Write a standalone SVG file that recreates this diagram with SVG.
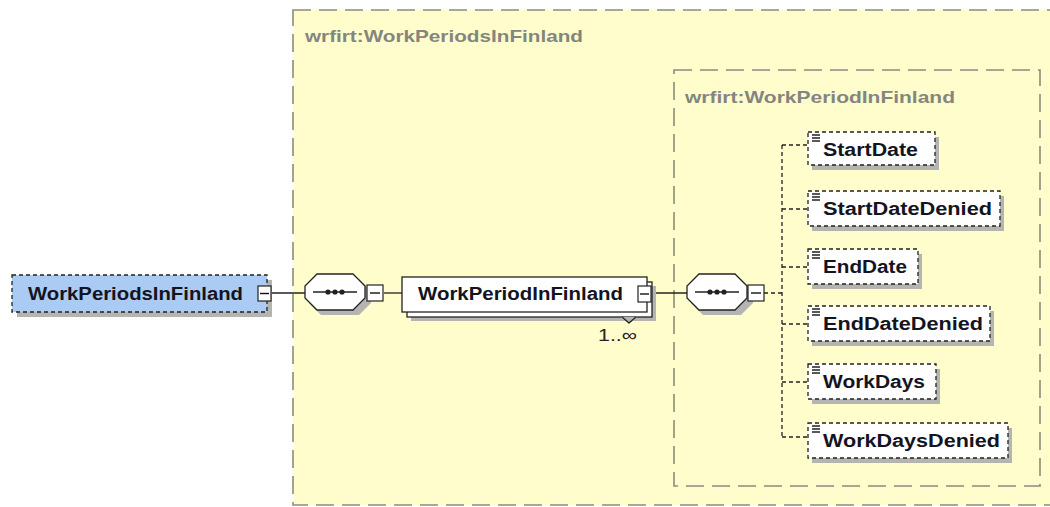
<svg xmlns="http://www.w3.org/2000/svg" width="1050" height="507" viewBox="0 0 1050 507">
<defs>
<style>
.grp{fill:#fffdcc;stroke:#8c8c7c;stroke-width:1.6;stroke-dasharray:18 8}
.hdr{font-family:"Liberation Sans",Arial,sans-serif;font-weight:bold;font-size:17px;fill:#858580}
.lbl{font-family:"Liberation Sans",Arial,sans-serif;font-weight:bold;font-size:18px;fill:#14141e}
.shadow{fill:#b4b4b0;stroke:none}
.el{fill:#ffffff;stroke:#222;stroke-width:1.3;stroke-dasharray:4 3}
.solid{fill:#ffffff;stroke:#222;stroke-width:1.3}
.cbox{fill:#ffffff;stroke:#222;stroke-width:1.2}
.ln{stroke:#222;stroke-width:1.3;fill:none}
.dln{stroke:#222;stroke-width:1.3;fill:none;stroke-dasharray:4 3}
.ico{stroke:#111;stroke-width:1.4}
.card{font-family:"Liberation Sans",Arial,sans-serif;font-size:17px;fill:#222}
</style>
</defs>
<rect width="1050" height="507" fill="#ffffff"/>

<g id="group-WorkPeriodsInFinland">
<rect class="grp" x="293" y="10" width="800" height="495"/>
<text class="hdr" x="305" y="42" textLength="278" lengthAdjust="spacingAndGlyphs">wrfirt:WorkPeriodsInFinland</text>
</g>
<g id="group-WorkPeriodInFinland">
<rect class="grp" x="674" y="70" width="366" height="416"/>
<text class="hdr" x="685" y="103" textLength="270" lengthAdjust="spacingAndGlyphs">wrfirt:WorkPeriodInFinland</text>
</g>

<g id="connectors">
<line class="ln" x1="272" y1="293" x2="305" y2="293"/>
<line class="ln" x1="384" y1="293" x2="402" y2="293"/>
<line class="ln" x1="652" y1="293" x2="687" y2="293"/>
<line class="dln" x1="764" y1="293" x2="782" y2="293"/>
<line class="dln" x1="782" y1="145" x2="782" y2="437"/>
<line class="dln" x1="782" y1="145" x2="808" y2="145"/>
<line class="dln" x1="782" y1="209" x2="808" y2="209"/>
<line class="dln" x1="782" y1="267" x2="808" y2="267"/>
<line class="dln" x1="782" y1="324" x2="808" y2="324"/>
<line class="dln" x1="782" y1="382" x2="808" y2="382"/>
<line class="dln" x1="782" y1="437" x2="808" y2="437"/>
</g>

<g id="node-root">
<rect class="shadow" x="17" y="280" width="255" height="37"/>
<rect x="12" y="275" width="255" height="37" fill="#aacbf3" stroke="#222" stroke-width="1.3" stroke-dasharray="4 3"/>
<text class="lbl" x="28" y="300" textLength="215" lengthAdjust="spacingAndGlyphs">WorkPeriodsInFinland</text>
<rect class="cbox" x="258" y="286" width="13" height="15"/>
<line class="ico" x1="260" y1="293.5" x2="269" y2="293.5"/>
</g>

<g id="node-seq1">
<polygon class="shadow" points="321,279 359,279 371,291 371,303 359,315 321,315 309,303 309,291"/>
<polygon class="solid" points="317,274 353,274 365,286 365,298 353,310 317,310 305,298 305,286"/>
<line class="ln" x1="313" y1="292" x2="357" y2="292"/>
<circle cx="328" cy="292" r="2.6" fill="#222"/>
<circle cx="335" cy="292" r="2.6" fill="#222"/>
<circle cx="342" cy="292" r="2.6" fill="#222"/>
<rect class="cbox" x="367" y="285" width="16" height="16"/>
<line class="ico" x1="370" y1="293" x2="380" y2="293"/>
</g>

<g id="node-WorkPeriodInFinland">
<rect class="shadow" x="411" y="286" width="245" height="35"/>
<rect class="solid" x="407" y="282" width="245" height="35"/>
<polygon points="621,317 637,317 629,324" fill="#b4b4b0" stroke="none"/>
<polyline class="ln" points="622,317 629,323 636,317"/>
<rect class="solid" x="402" y="277" width="245" height="35"/>
<text class="lbl" x="418" y="300" textLength="205" lengthAdjust="spacingAndGlyphs">WorkPeriodInFinland</text>
<rect class="cbox" x="638" y="286" width="13" height="16"/>
<line class="ico" x1="640" y1="294" x2="649" y2="294"/>
<text class="card" x="598" y="341" textLength="39" lengthAdjust="spacingAndGlyphs">1..∞</text>
</g>

<g id="node-seq2">
<polygon class="shadow" points="703,279 741,279 753,291 753,303 741,315 703,315 691,303 691,291"/>
<polygon class="solid" points="699,274 735,274 747,286 747,298 735,310 699,310 687,298 687,286"/>
<line class="ln" x1="695" y1="292" x2="739" y2="292"/>
<circle cx="710" cy="292" r="2.6" fill="#222"/>
<circle cx="717" cy="292" r="2.6" fill="#222"/>
<circle cx="724" cy="292" r="2.6" fill="#222"/>
<rect class="cbox" x="748" y="285" width="16" height="16"/>
<line class="ico" x1="751" y1="293" x2="761" y2="293"/>
</g>

<g id="node-StartDate">
<rect class="shadow" x="812" y="137" width="127" height="33"/>
<rect class="el" x="808" y="132" width="127" height="33"/>
<line class="ico" x1="812" y1="135" x2="820" y2="135"/><line class="ico" x1="812" y1="138" x2="820" y2="138"/><line class="ico" x1="812" y1="141" x2="820" y2="141"/>
<text class="lbl" x="823" y="156" textLength="95" lengthAdjust="spacingAndGlyphs">StartDate</text>
</g>
<g id="node-StartDateDenied">
<rect class="shadow" x="812" y="196" width="192" height="35"/>
<rect class="el" x="808" y="191" width="192" height="35"/>
<line class="ico" x1="812" y1="194" x2="820" y2="194"/><line class="ico" x1="812" y1="197" x2="820" y2="197"/><line class="ico" x1="812" y1="200" x2="820" y2="200"/>
<text class="lbl" x="823" y="215" textLength="169" lengthAdjust="spacingAndGlyphs">StartDateDenied</text>
</g>
<g id="node-EndDate">
<rect class="shadow" x="812" y="254" width="110" height="35"/>
<rect class="el" x="808" y="249" width="110" height="35"/>
<line class="ico" x1="812" y1="252" x2="820" y2="252"/><line class="ico" x1="812" y1="255" x2="820" y2="255"/><line class="ico" x1="812" y1="258" x2="820" y2="258"/>
<text class="lbl" x="823" y="273" textLength="84" lengthAdjust="spacingAndGlyphs">EndDate</text>
</g>
<g id="node-EndDateDenied">
<rect class="shadow" x="812" y="311" width="182" height="35"/>
<rect class="el" x="808" y="306" width="182" height="35"/>
<line class="ico" x1="812" y1="309" x2="820" y2="309"/><line class="ico" x1="812" y1="312" x2="820" y2="312"/><line class="ico" x1="812" y1="315" x2="820" y2="315"/>
<text class="lbl" x="823" y="330" textLength="160" lengthAdjust="spacingAndGlyphs">EndDateDenied</text>
</g>
<g id="node-WorkDays">
<rect class="shadow" x="812" y="369" width="128" height="35"/>
<rect class="el" x="808" y="364" width="128" height="35"/>
<line class="ico" x1="812" y1="367" x2="820" y2="367"/><line class="ico" x1="812" y1="370" x2="820" y2="370"/><line class="ico" x1="812" y1="373" x2="820" y2="373"/>
<text class="lbl" x="823" y="388" textLength="102" lengthAdjust="spacingAndGlyphs">WorkDays</text>
</g>
<g id="node-WorkDaysDenied">
<rect class="shadow" x="812" y="428" width="200" height="35"/>
<rect class="el" x="808" y="423" width="200" height="35"/>
<line class="ico" x1="812" y1="426" x2="820" y2="426"/><line class="ico" x1="812" y1="429" x2="820" y2="429"/><line class="ico" x1="812" y1="432" x2="820" y2="432"/>
<text class="lbl" x="823" y="447" textLength="177" lengthAdjust="spacingAndGlyphs">WorkDaysDenied</text>
</g>
</svg>
